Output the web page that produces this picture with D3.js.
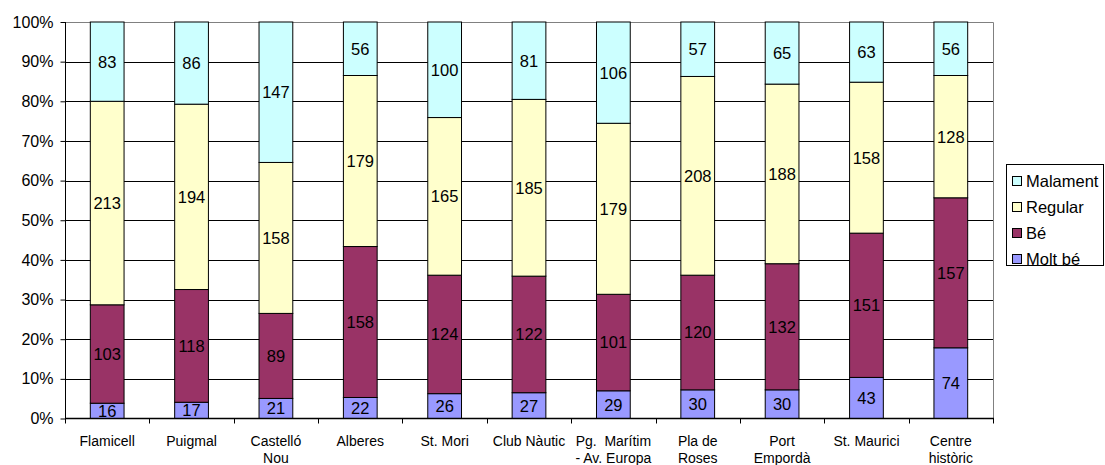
<!DOCTYPE html>
<html>
<head>
<meta charset="utf-8">
<script src="https://cdn.jsdelivr.net/npm/d3@7"></script>
<style>
  body { margin: 0; background: #fff; }
  text { font-family: "Liberation Sans", Arial, sans-serif; fill: #000; }
</style>
</head>
<body>
<svg id="chart" width="1105" height="465"></svg>
<script>
// ----------

const CATEGORIES = [
  ["Flamicell"], ["Puigmal"], ["Castelló", "Nou"], ["Alberes"], ["St. Mori"],
  ["Club Nàutic"], ["Pg.  Marítim", "- Av. Europa"], ["Pla de", "Roses"],
  ["Port", "Empordà"], ["St. Maurici"], ["Centre", "històric"]
];
const MOLT_BE = [16, 17, 21, 22, 26, 27, 29, 30, 30, 43, 74];
const BE = [103, 118, 89, 158, 124, 122, 101, 120, 132, 151, 157];
const REGULAR = [213, 194, 158, 179, 165, 185, 179, 208, 188, 158, 128];
const MALAMENT = [83, 86, 147, 56, 100, 81, 106, 57, 65, 63, 56];

const SERIES_NAMES = ["Molt bé", "Bé", "Regular", "Malament"];
const SERIES_COLORS = ["#9999ff", "#993366", "#ffffcc", "#ccffff"];
const Y_TICKS = [0, 0.1, 0.2, 0.3, 0.4, 0.5, 0.6, 0.7, 0.8, 0.9, 1];

// ----------

const svg = d3.select("#chart");
const plotLeft = 65, plotRight = 993, plotTop = 22, plotBottom = 418.5;

const rows = CATEGORIES.map(function (c, i) {
  return { key: i, "Molt bé": MOLT_BE[i], "Bé": BE[i], "Regular": REGULAR[i], "Malament": MALAMENT[i] };
});

const stack = d3.stack().keys(SERIES_NAMES).offset(d3.stackOffsetExpand);
const layers = stack(rows);

const x = d3.scaleBand().domain(d3.range(CATEGORIES.length)).range([plotLeft, plotRight]).paddingInner(0.6).paddingOuter(0.3);
const xOuter = d3.scaleBand().domain(d3.range(CATEGORIES.length)).range([plotLeft, plotRight]);
const y = d3.scaleLinear().domain([0, 1]).range([plotBottom, plotTop]);

// gridlines
svg.append("g")
  .selectAll("line")
  .data(Y_TICKS.slice(1, -1))
  .enter()
  .append("line")
  .attr("x1", plotLeft).attr("x2", plotRight)
  .attr("y1", function (d) { return Math.round(y(d)) + 0.5; })
  .attr("y2", function (d) { return Math.round(y(d)) + 0.5; })
  .attr("stroke", "#000").attr("stroke-width", 1);

// plot border (top/right gray)
svg.append("path")
  .attr("d", "M" + plotLeft + "," + (plotTop + 0.5) + "H" + (plotRight + 0.5) + "V" + plotBottom)
  .attr("fill", "none").attr("stroke", "#808080");

// bars
const layerG = svg.append("g")
  .selectAll("g")
  .data(layers)
  .enter()
  .append("g")
  .attr("fill", function (d, i) { return SERIES_COLORS[i]; });

layerG.selectAll("rect")
  .data(function (d) { return d; })
  .enter()
  .append("rect")
  .attr("x", function (d, i) { return x(i); })
  .attr("width", x.bandwidth())
  .attr("y", function (d) { return y(d[1]); })
  .attr("height", function (d) { return y(d[0]) - y(d[1]); })
  .attr("stroke", "#000").attr("stroke-width", 1);

// data labels
layerG.each(function (layer) {
  d3.select(this).selectAll("text")
    .data(layer)
    .enter()
    .append("text")
    .attr("x", function (d, i) { return x(i) + x.bandwidth() / 2; })
    .attr("y", function (d) { return (y(d[0]) + y(d[1])) / 2; })
    .attr("dy", "0.36em")
    .attr("text-anchor", "middle")
    .attr("font-size", 16.5)
    .text(function (d) { return d.data[layer.key]; });
});

// y axis
const yAxis = d3.axisLeft(y).tickValues(Y_TICKS).tickSize(5).tickFormat(d3.format(".0%"));
const gy = svg.append("g").attr("transform", "translate(" + (plotLeft + 0.5) + ",0)").call(yAxis);
gy.select(".domain").attr("stroke", "#000").attr("d", "M0," + plotTop + "V" + plotBottom);
gy.selectAll(".tick line").attr("stroke", "#000");
gy.selectAll(".tick text").attr("font-size", 16).attr("font-family", "Liberation Sans, Arial, sans-serif").attr("x", -12);

// x axis
svg.append("line")
  .attr("x1", plotLeft).attr("x2", plotRight + 1)
  .attr("y1", plotBottom).attr("y2", plotBottom)
  .attr("stroke", "#000").attr("stroke-width", 1.5);

svg.append("g")
  .selectAll("line")
  .data(d3.range(CATEGORIES.length + 1))
  .enter()
  .append("line")
  .attr("x1", function (d) { return Math.round(d < CATEGORIES.length ? xOuter(d) : plotRight) + 0.5; })
  .attr("x2", function (d) { return Math.round(d < CATEGORIES.length ? xOuter(d) : plotRight) + 0.5; })
  .attr("y1", plotBottom).attr("y2", plotBottom + 5)
  .attr("stroke", "#000");

const xl = svg.append("g")
  .selectAll("text")
  .data(CATEGORIES)
  .enter()
  .append("text")
  .attr("x", function (d, i) { return xOuter(i) + xOuter.bandwidth() / 2; })
  .attr("y", 446)
  .attr("text-anchor", "middle")
  .attr("font-size", 14)
  .attr("xml:space", "preserve");

xl.selectAll("tspan")
  .data(function (d) { return d; })
  .enter()
  .append("tspan")
  .attr("x", function () { return d3.select(this.parentNode).attr("x"); })
  .attr("dy", function (d, i) { return i === 0 ? 0 : 17; })
  .text(function (d) { return d; });

// legend
const legend = svg.append("g");
legend.append("rect")
  .attr("x", 1006.5).attr("y", 164.5).attr("width", 97).attr("height", 101)
  .attr("fill", "#fff").attr("stroke", "#000");

const legendNames = SERIES_NAMES.slice().reverse();
const legendColors = SERIES_COLORS.slice().reverse();
const ly = d3.scalePoint().domain(legendNames).range([181, 259]);

legend.selectAll("rect.sw")
  .data(legendNames)
  .enter()
  .append("rect")
  .attr("class", "sw")
  .attr("x", 1012.5)
  .attr("y", function (d) { return ly(d) - 4.5; })
  .attr("width", 9).attr("height", 9)
  .attr("fill", function (d, i) { return legendColors[i]; })
  .attr("stroke", "#000");

legend.selectAll("text")
  .data(legendNames)
  .enter()
  .append("text")
  .attr("x", 1026)
  .attr("y", ly)
  .attr("dy", "0.36em")
  .attr("font-size", 16.5)
  .text(function (d) { return d; });
</script>
</body>
</html>
